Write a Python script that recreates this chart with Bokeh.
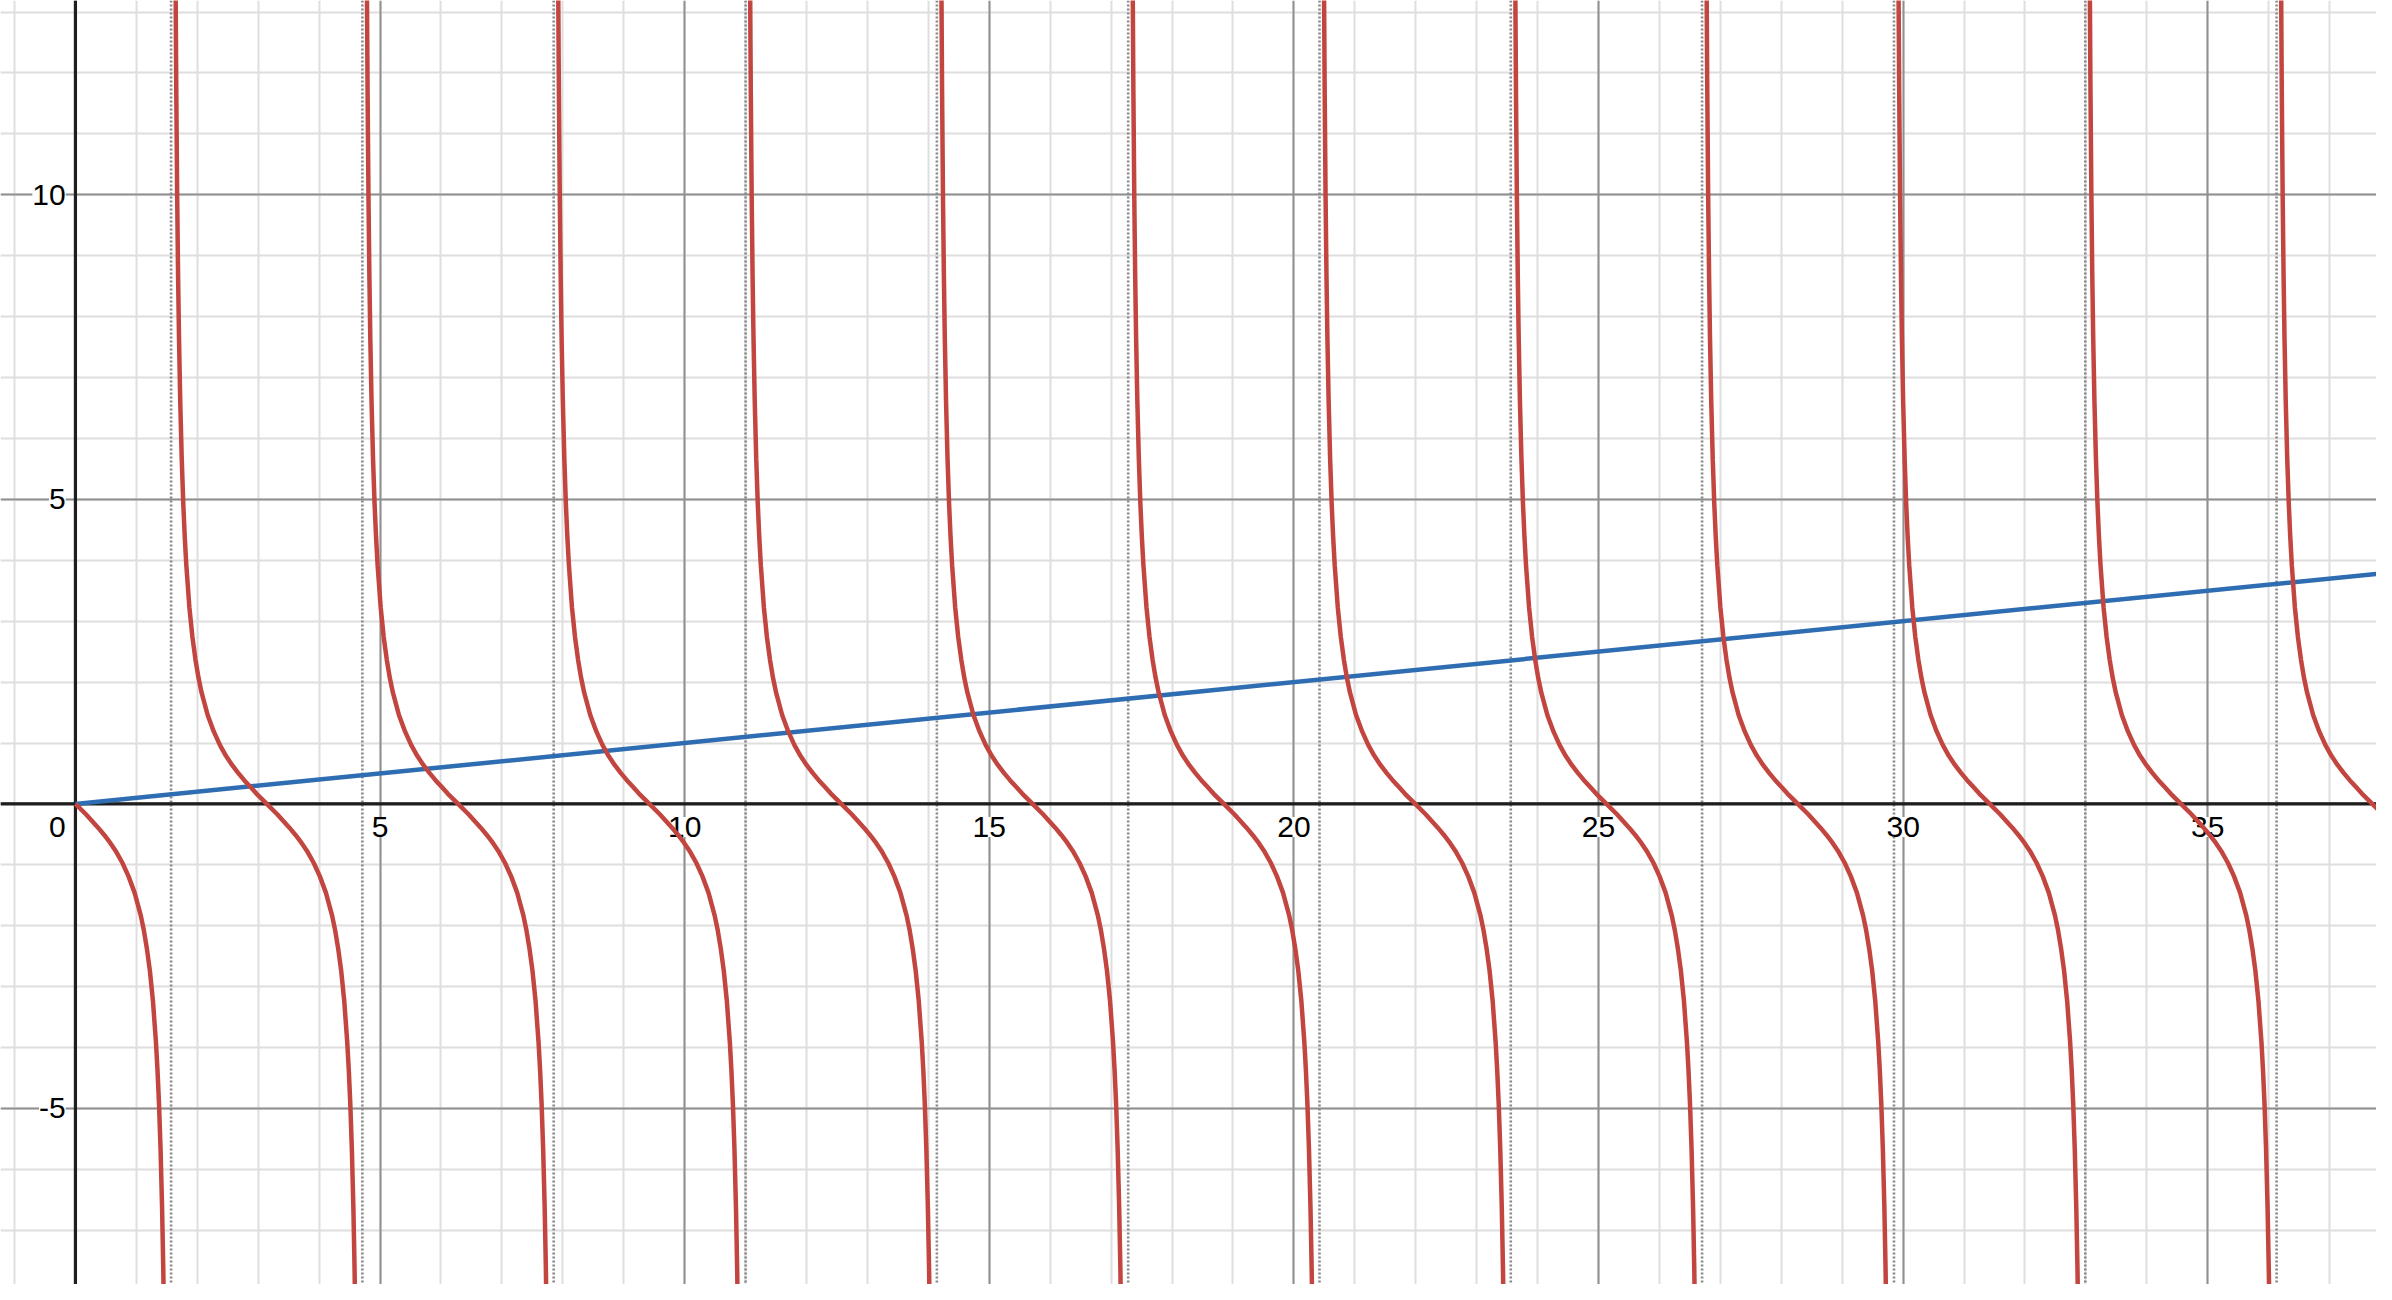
from bokeh.plotting import figure
from bokeh.models import Span, Label, Grid, SingleIntervalTicker, Range1d
from bokeh.embed import file_html
from bokeh.resources import INLINE

# vertical asymptotes (dotted)
asymptotes = [1.57, 4.71, 7.85, 11.0, 14.14, 17.28, 20.42, 23.56, 26.7, 29.85, 32.99, 36.13]

# one branch of the red curve: distance right of an asymptote -> y
branch_dx = [0.075, 0.085, 0.1, 0.115, 0.13, 0.15, 0.175, 0.2, 0.225, 0.25, 0.3, 0.35, 0.4,
             0.45, 0.5, 0.6, 0.7, 0.8, 0.9, 1.0, 1.1, 1.2, 1.3, 1.4, 1.571,
             1.742, 1.842, 1.942, 2.042, 2.142, 2.242, 2.342, 2.442, 2.542, 2.642, 2.692,
             2.742, 2.792, 2.842, 2.892, 2.917, 2.942, 2.967, 2.992, 3.012, 3.027]
branch_y = [13.31, 11.74, 9.97, 8.66, 7.65, 6.62, 5.66, 4.93, 4.37, 3.92, 3.23, 2.74, 2.37,
            2.07, 1.83, 1.46, 1.19, 0.97, 0.79, 0.64, 0.51, 0.39, 0.28, 0.17, 0.0,
            -0.17, -0.28, -0.39, -0.51, -0.64, -0.79, -0.97, -1.19, -1.46, -1.83, -2.07,
            -2.37, -2.74, -3.23, -3.92, -4.37, -4.93, -5.66, -6.62, -7.65, -8.66]

# blue straight line
blue_x = [0, 38]
blue_y = [0, 3.8]

x_labels = [5, 10, 15, 20, 25, 30, 35]
y_labels = [-5, 5, 10]

p = figure(width=2376, height=1284, x_range=Range1d(-1.23, 37.77), y_range=Range1d(-7.89, 13.19),
           x_axis_type=None, y_axis_type=None, toolbar_location=None, output_backend="svg",
           min_border=0, outline_line_color=None, background_fill_color="white",
           border_fill_color="white")

for dim in (0, 1):
    p.add_layout(Grid(dimension=dim, ticker=SingleIntervalTicker(interval=1),
                      grid_line_color="#dedede", grid_line_width=2))
for dim in (0, 1):
    p.add_layout(Grid(dimension=dim, ticker=SingleIntervalTicker(interval=5),
                      grid_line_color="#909090", grid_line_width=2))

for a in asymptotes:
    p.add_layout(Span(location=a, dimension="height", line_color="#878787", line_width=2.6,
                      line_dash="2 2", level="underlay"))

p.add_layout(Span(location=0, dimension="height", line_color="#1e1e1e", line_width=3.2, level="underlay"))
p.add_layout(Span(location=0, dimension="width", line_color="#1e1e1e", line_width=3.2, level="underlay"))

lab = dict(text_font="Liberation Sans", text_font_size="30px", text_color="black",
           background_fill_color="white", level="underlay")
p.add_layout(Label(x=-0.16, y=-0.38, text="0", text_align="right", text_baseline="middle", **lab))
for v in x_labels:
    p.add_layout(Label(x=v, y=-0.38, text=str(v), text_align="center", text_baseline="middle", **lab))
for v in y_labels:
    p.add_layout(Label(x=-0.16, y=v, text=str(v), text_align="right", text_baseline="middle", **lab))

p.line(blue_x, blue_y, line_color="#2f6db3", line_width=4.5)

red_xs, red_ys = [], []
for a in [-1.57] + asymptotes:
    xs, ys = [], []
    for dx, y in zip(branch_dx, branch_y):
        if a + dx >= -0.001:
            xs.append(a + dx)
            ys.append(y)
    red_xs.append(xs)
    red_ys.append(ys)
p.multi_line(red_xs, red_ys, line_color="#c2453f", line_width=4.5)

open("out.html", "w").write(file_html(p, INLINE))
